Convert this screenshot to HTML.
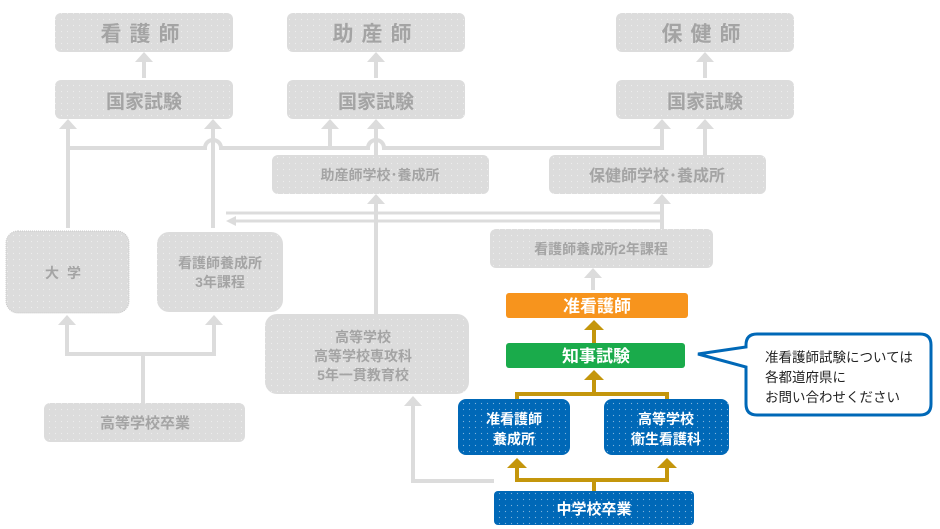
<!DOCTYPE html>
<html><head><meta charset="utf-8"><style>
html,body{margin:0;padding:0;background:#fff;}
svg{display:block;}
text{font-family:"Liberation Sans","Noto Sans CJK JP",sans-serif;font-weight:bold;text-anchor:middle;}
</style></head><body>
<svg width="940" height="529" viewBox="0 0 940 529" xmlns="http://www.w3.org/2000/svg">
<defs>
<pattern id="dots" width="6" height="6" patternUnits="userSpaceOnUse"><circle cx="1.5" cy="1.5" r="0.6" fill="#fff" opacity="0.5"/></pattern>
</defs>
<g fill="#dcdcdc">
<rect x="55" y="13" width="178" height="39" rx="6"/>
<rect x="287" y="13" width="178" height="39" rx="6"/>
<rect x="616" y="13" width="178" height="39" rx="6"/>
<rect x="55" y="80" width="178" height="39" rx="6"/>
<rect x="287" y="80" width="178" height="39" rx="6"/>
<rect x="616" y="80" width="178" height="39" rx="6"/>
<rect x="272" y="155" width="217" height="39" rx="6"/>
<rect x="549" y="155" width="217" height="39" rx="6"/>
<rect x="490" y="229" width="223" height="39" rx="6"/>
<rect x="6" y="231" width="123" height="82" rx="12" stroke="#c8c8c8" stroke-dasharray="1 1"/>
<rect x="157" y="232" width="126" height="80" rx="12"/>
<rect x="265" y="314" width="204" height="80" rx="12"/>
<rect x="44" y="403" width="201" height="39" rx="6"/>
</g>
<rect x="506" y="293" width="182" height="25" rx="3" fill="#f7941d"/>
<rect x="506" y="343" width="179" height="25" rx="3" fill="#1aab4b"/>
<rect x="458" y="399" width="112" height="56" rx="8" fill="#0068b7"/>
<rect x="604" y="399" width="125" height="56" rx="8" fill="#0068b7"/>
<rect x="494" y="491" width="200" height="34" rx="4" fill="#0068b7"/>
<g fill="url(#dots)">
<rect x="55" y="13" width="178" height="39" rx="6"/><rect x="287" y="13" width="178" height="39" rx="6"/><rect x="616" y="13" width="178" height="39" rx="6"/>
<rect x="55" y="80" width="178" height="39" rx="6"/><rect x="287" y="80" width="178" height="39" rx="6"/><rect x="616" y="80" width="178" height="39" rx="6"/>
<rect x="272" y="155" width="217" height="39" rx="6"/><rect x="549" y="155" width="217" height="39" rx="6"/><rect x="490" y="229" width="223" height="39" rx="6"/>
<rect x="6" y="231" width="123" height="82" rx="12"/><rect x="157" y="232" width="126" height="80" rx="12"/><rect x="265" y="314" width="204" height="80" rx="12"/><rect x="44" y="403" width="201" height="39" rx="6"/>
<rect x="458" y="399" width="112" height="56" rx="8"/><rect x="604" y="399" width="125" height="56" rx="8"/><rect x="494" y="491" width="200" height="34" rx="4"/>
</g>
<g stroke="#dcdcdc" stroke-width="4" fill="none">
<path d="M144 78 V60"/><path d="M376 78 V60"/><path d="M705 78 V60"/>
<path d="M68 228 V127"/>
<path d="M213 228 V127"/>
<path d="M68 148 H205 A8 8 0 0 1 221 148 H368 A8 8 0 0 1 384 148 H662 V127"/>
<path d="M330 148 V127"/>
<path d="M376 155 V127"/>
<path d="M705 155 V127"/>
<path d="M376 314 V202"/>
<path d="M662 229 V202"/>
<path d="M226 213 H662" stroke-width="3"/>
<path d="M234 221 H662" stroke-width="3"/>
<path d="M593 290 V276"/>
<path d="M143 403 V354"/><path d="M67 354 H214"/><path d="M67 356 V324"/><path d="M214 356 V324"/>
<path d="M413 481 V404"/><path d="M411 481 H494"/>
</g>
<g fill="#dcdcdc">
<path d="M135 62 L144 52 L153 62z"/><path d="M367 62 L376 52 L385 62z"/><path d="M696 62 L705 52 L714 62z"/>
<path d="M59 129 L68 119 L77 129z"/><path d="M204 129 L213 119 L222 129z"/><path d="M321 129 L330 119 L339 129z"/><path d="M367 129 L376 119 L385 129z"/><path d="M653 129 L662 119 L671 129z"/><path d="M696 129 L705 119 L714 129z"/>
<path d="M367 204 L376 194 L385 204z"/><path d="M653 204 L662 194 L671 204z"/>
<path d="M236 216 L226 221 L236 226z"/>
<path d="M584 278 L593 268 L602 278z"/>
<path d="M58 325 L67 315 L76 325z"/><path d="M205 325 L214 315 L223 325z"/>
<path d="M404 406 L413 396 L422 406z"/>
</g>
<g stroke="#c4960c" stroke-width="4" fill="none">
<path d="M594 343 V328"/>
<path d="M594 393 V378"/><path d="M517 399 V394 H667 V399"/>
<path d="M594 491 V480"/><path d="M517 480 H667"/><path d="M517 482 V466"/><path d="M667 482 V466"/>
</g>
<g fill="#c4960c">
<path d="M584 330 L594 320 L604 330z"/><path d="M584 380 L594 370 L604 380z"/>
<path d="M507 468 L517 458 L527 468z"/><path d="M657 468 L667 458 L677 468z"/>
</g>
<path d="M757 334 H920 Q931 334 931 345 V404 Q931 415 920 415 H757 Q746 415 746 404 V367 L698 354 L746 347 V345 Q746 334 757 334z" fill="#fff" stroke="#0068b7" stroke-width="3"/>
<g font-size="13.5" fill="#222">
<text x="765" y="362" style="text-anchor:start;font-weight:normal">准看護師試験については</text>
<text x="765" y="382" style="text-anchor:start;font-weight:normal">各都道府県に</text>
<text x="765" y="402" style="text-anchor:start;font-weight:normal">お問い合わせください</text>
</g>
<g fill="#a4a4a4">
<text x="144" y="41" font-size="21" letter-spacing="8">看護師</text>
<text x="376" y="41" font-size="21" letter-spacing="8">助産師</text>
<text x="705" y="41" font-size="21" letter-spacing="8">保健師</text>
<text x="144" y="108" font-size="19">国家試験</text>
<text x="376" y="108" font-size="19">国家試験</text>
<text x="705" y="108" font-size="19">国家試験</text>
<text x="380" y="180" font-size="14">助産師学校･養成所</text>
<text x="657" y="181" font-size="16">保健師学校･養成所</text>
<text x="601" y="254" font-size="14">看護師養成所2年課程</text>
<text x="67" y="278" font-size="14" letter-spacing="8">大学</text>
<text x="220" y="268" font-size="14">看護師養成所</text>
<text x="220" y="287" font-size="14">3年課程</text>
<text x="363" y="342" font-size="14">高等学校</text>
<text x="363" y="361" font-size="14">高等学校専攻科</text>
<text x="363" y="380" font-size="14">5年一貫教育校</text>
<text x="145" y="428" font-size="15">高等学校卒業</text>
</g>
<g fill="#fff">
<text x="597" y="312" font-size="17">准看護師</text>
<text x="596" y="362" font-size="17">知事試験</text>
<text x="514" y="424" font-size="14">准看護師</text>
<text x="514" y="444" font-size="14">養成所</text>
<text x="666" y="424" font-size="14">高等学校</text>
<text x="666" y="444" font-size="14">衛生看護科</text>
<text x="594" y="514" font-size="15">中学校卒業</text>
</g>
</svg>
</body></html>
